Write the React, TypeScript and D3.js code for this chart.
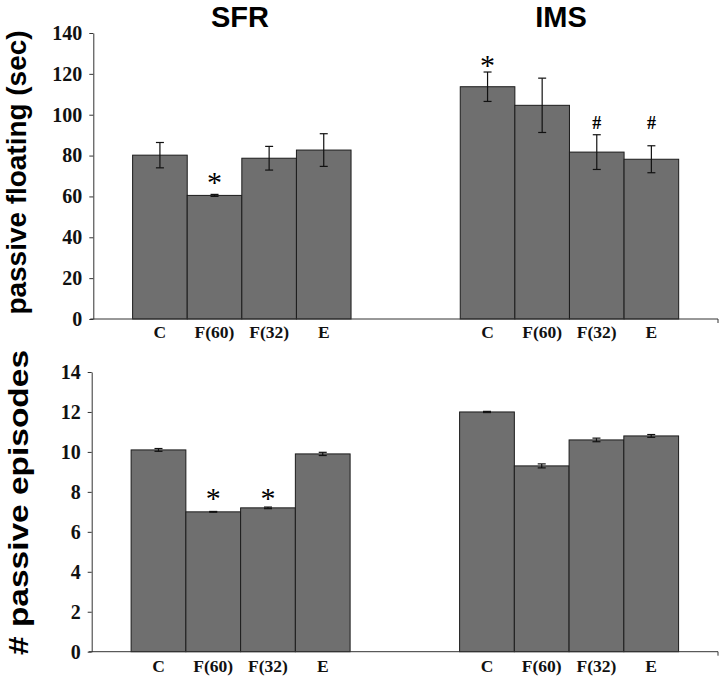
import React, { useEffect, useRef } from 'react';
import * as d3 from 'd3';

const groups = ['SFR', 'IMS'];
const categories = ['C', 'F(60)', 'F(32)', 'E'];

// top panel: passive floating (sec)
const floatMean = [[80.2, 60.5, 78.7, 82.7], [113.7, 104.6, 81.7, 78.2]];
const floatErr = [[6.2, 0.5, 5.8, 8.0], [7.2, 13.3, 8.5, 6.6]];
const floatTicks = [0, 20, 40, 60, 80, 100, 120, 140];
const floatMarks = [
  { group: 'SFR', cat: 'F(60)', sym: '*', at: 68.9 },
  { group: 'IMS', cat: 'C', sym: '*', at: 126.3 },
  { group: 'IMS', cat: 'F(32)', sym: '#', at: 96 },
  { group: 'IMS', cat: 'E', sym: '#', at: 96 },
];

// bottom panel: # passive episodes
const episodeMean = [[10.1, 7.0, 7.2, 9.9], [12.0, 9.3, 10.6, 10.8]];
const episodeErr = [[0.07, 0.02, 0.04, 0.08], [0.03, 0.1, 0.09, 0.07]];
const episodeTicks = [0, 2, 4, 6, 8, 10, 12, 14];
const episodeMarks = [
  { group: 'SFR', cat: 'F(60)', sym: '*', at: 7.9 },
  { group: 'SFR', cat: 'F(32)', sym: '*', at: 7.9 },
];

const slots = [
  ...categories.map(c => 'SFR|' + c),
  'gap1', 'gap2',
  ...categories.map(c => 'IMS|' + c),
];

const SERIF = '"Liberation Serif", "Times New Roman", serif';
const SANS = '"Liberation Sans", Arial, sans-serif';

const App = () => {
  const ref = useRef(null);

  useEffect(() => {
    const svg = d3.select(ref.current);
    svg.selectAll('*').remove();

    // group titles
    const titleX = d3.scaleOrdinal().domain(groups).range([240, 561]);
    svg.selectAll('.title')
      .data(groups)
      .enter().append('text')
      .attr('x', d => titleX(d))
      .attr('y', 27)
      .attr('text-anchor', 'middle')
      .style('font-family', SANS)
      .style('font-weight', 'bold')
      .style('font-size', '29px')
      .text(d => d);

    const drawPanel = (opt) => {
      const x = d3.scaleBand().domain(slots).range([opt.left, 718]).paddingInner(0).paddingOuter(0.72);
      const y = d3.scaleLinear().domain([0, opt.max]).range([opt.bottom, opt.top]);
      const g = svg.append('g');

      const rows = [];
      groups.forEach((grp, gi) => {
        categories.forEach((cat, ci) => {
          rows.push({ key: grp + '|' + cat, mean: opt.mean[gi][ci], err: opt.err[gi][ci] });
        });
      });

      // bars
      g.selectAll('.bar')
        .data(rows)
        .enter().append('rect')
        .attr('x', d => x(d.key))
        .attr('y', d => y(d.mean))
        .attr('width', x.bandwidth())
        .attr('height', d => y(0) - y(d.mean))
        .attr('fill', '#6f6f6f')
        .attr('stroke', '#1c1c1c')
        .attr('stroke-width', 1);

      // error bars
      const eb = g.selectAll('.err').data(rows).enter().append('g')
        .attr('stroke', '#111').attr('stroke-width', 1.2);
      const cx = d => x(d.key) + x.bandwidth() / 2;
      eb.append('line')
        .attr('x1', cx).attr('x2', cx)
        .attr('y1', d => y(d.mean + d.err)).attr('y2', d => y(d.mean - d.err));
      eb.append('line')
        .attr('x1', d => cx(d) - 4).attr('x2', d => cx(d) + 4)
        .attr('y1', d => y(d.mean + d.err)).attr('y2', d => y(d.mean + d.err));
      eb.append('line')
        .attr('x1', d => cx(d) - 4).attr('x2', d => cx(d) + 4)
        .attr('y1', d => y(d.mean - d.err)).attr('y2', d => y(d.mean - d.err));

      // significance marks
      g.selectAll('.mark')
        .data(opt.marks)
        .enter().append('text')
        .attr('x', d => x(d.group + '|' + d.cat) + x.bandwidth() / 2)
        .attr('y', d => y(d.at))
        .attr('text-anchor', 'middle')
        .attr('dy', d => d.sym === '*' ? '0.47em' : '0.35em')
        .style('font-family', SERIF)
        .style('font-weight', d => d.sym === '#' ? 'bold' : 'normal')
        .style('font-size', d => d.sym === '*' ? '30px' : '18px')
        .text(d => d.sym);

      // y axis
      const ya = g.append('g')
        .attr('transform', `translate(${opt.left},0)`)
        .call(d3.axisLeft(y).tickValues(opt.ticks).tickSize(4).tickSizeOuter(0).tickPadding(7));
      ya.select('.domain').attr('stroke', '#333');
      ya.selectAll('.tick line').attr('stroke', '#333');
      ya.selectAll('.tick text')
        .style('font-family', SERIF)
        .style('font-weight', 'bold')
        .style('font-size', '20px')
        .attr('fill', '#111');

      // x axis
      g.append('path')
        .attr('d', `M${opt.left - 3},${y(0)}H718V${y(0) + 4}`)
        .attr('fill', 'none')
        .attr('stroke', '#333');
      const xa = g.append('g')
        .attr('transform', `translate(0,${y(0)})`)
        .call(d3.axisBottom(x)
          .tickValues(slots.filter(s => s.includes('|')))
          .tickFormat(s => s.split('|')[1])
          .tickSize(0).tickPadding(opt.labelPad));
      xa.select('.domain').remove();
      xa.selectAll('.tick text')
        .style('font-family', SERIF)
        .style('font-weight', 'bold')
        .style('font-size', '17.5px')
        .attr('fill', '#111');

      // y label
      svg.append('text')
        .attr('transform', `translate(${opt.labelX},${opt.labelY}) rotate(-90)`)
        .attr('text-anchor', 'middle')
        .attr('textLength', opt.labelLen)
        .attr('lengthAdjust', 'spacingAndGlyphs')
        .style('font-family', SANS)
        .style('font-weight', 'bold')
        .style('font-size', '27px')
        .text(opt.label);
    };

    drawPanel({
      left: 93.3, top: 33, bottom: 319, max: 140, ticks: floatTicks,
      mean: floatMean, err: floatErr, marks: floatMarks, labelPad: 7,
      label: 'passive floating (sec)', labelX: 26, labelY: 172.5, labelLen: 284,
    });
    drawPanel({
      left: 91.7, top: 372, bottom: 651.7, max: 14, ticks: episodeTicks,
      mean: episodeMean, err: episodeErr, marks: episodeMarks, labelPad: 8,
      label: '# passive episodes', labelX: 28, labelY: 502.5, labelLen: 305,
    });
  }, []);

  return (
    <svg
      ref={ref}
      width={720}
      height={676}
      style={{ position: 'absolute', left: 0, top: 0, background: '#fff' }}
    />
  );
};

export default App;
